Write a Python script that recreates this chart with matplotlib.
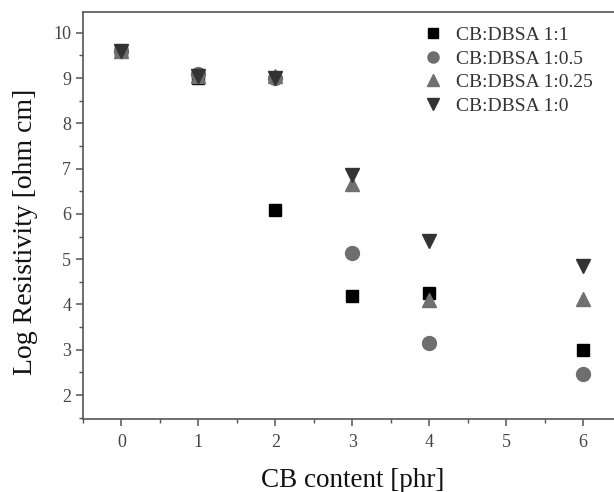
import matplotlib
matplotlib.use("Agg")
import matplotlib.pyplot as plt
from matplotlib.ticker import MultipleLocator

x_vals = [0, 1, 2, 3, 4, 6]
s_11 = [9.6, 9.0, 6.08, 4.18, 4.25, 3.0]
s_105 = [9.6, 9.1, 9.0, 5.13, 3.15, 2.46]
s_1025 = [9.6, 9.05, 9.05, 6.65, 4.1, 4.13]
s_10 = [9.6, 9.05, 9.0, 6.85, 5.4, 4.85]
labels = ["CB:DBSA 1:1", "CB:DBSA 1:0.5", "CB:DBSA 1:0.25", "CB:DBSA 1:0"]

plt.rcParams['font.family'] = ['Liberation Serif', 'DejaVu Serif']

fig = plt.figure(figsize=(6.14, 4.92), dpi=100)
ax = fig.add_axes([83/614, 1 - 419/492, (614 - 83)/614, (419 - 12)/492])

ax.plot(x_vals, s_11, 's', color='#000000', ms=9, ls='none', label=labels[0])
ax.plot(x_vals, s_105, 'o', color='#6e6e6e', ms=10, ls='none', label=labels[1])
ax.plot(x_vals, s_1025, '^', color='#707070', ms=10, ls='none', label=labels[2])
ax.plot(x_vals, s_10, 'v', color='#333333', ms=10, ls='none', label=labels[3])

ax.set_xlim(-0.5, 6.4)
ax.set_ylim(1.47, 10.46)
ax.xaxis.set_major_locator(MultipleLocator(1))
ax.xaxis.set_minor_locator(MultipleLocator(0.5))
ax.yaxis.set_major_locator(MultipleLocator(1))
ax.yaxis.set_minor_locator(MultipleLocator(0.5))
ax.spines['right'].set_visible(False)
for sp in ['left', 'bottom', 'top']:
    ax.spines[sp].set_color('#555555')
    ax.spines[sp].set_linewidth(1.2)
ax.tick_params(axis='both', which='major', direction='out', length=5, width=1.1,
               color='#555555', labelsize=13, labelcolor='#444444')
ax.tick_params(axis='x', which='major', pad=6)
ax.tick_params(axis='both', which='minor', direction='out', length=3, width=1.0,
               color='#555555')
ax.tick_params(axis='x', which='both', top=False)

ax.set_xlabel('CB content [phr]', fontsize=19.5, color='#111111', labelpad=12)
ax.set_ylabel('Log Resistivity [ohm cm]', fontsize=20, color='#111111', labelpad=11)
ax.xaxis.label.set_x(0.508)
ax.yaxis.label.set_y(0.459)

leg = ax.legend(loc='upper left', bbox_to_anchor=(0.607, 1.007), frameon=False,
                fontsize=14, handletextpad=0.7, labelspacing=0.3, markerscale=0.8,
                handlelength=1.0)
for t in leg.get_texts():
    t.set_color('#333333')

fig.savefig('out.png', dpi=100)
